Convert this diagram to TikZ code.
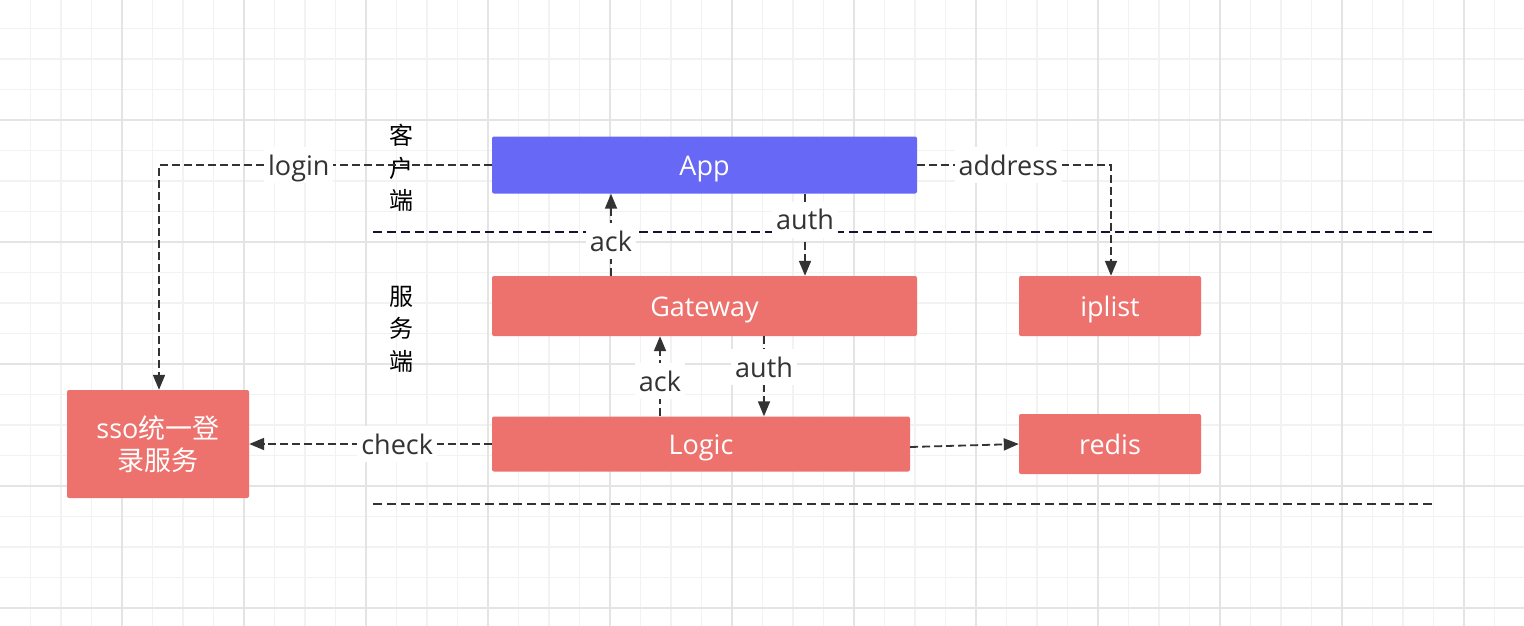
\documentclass[tikz,border=0pt]{standalone}
\usepackage{fontspec}
\setmainfont{Open Sans}
\newfontfamily\cjk{Noto Sans CJK SC}
\usetikzlibrary{arrows.meta}
\definecolor{boxred}{RGB}{237,113,108}
\definecolor{boxblue}{RGB}{103,104,245}
\definecolor{minorgrid}{RGB}{242,242,242}
\definecolor{majorgrid}{RGB}{228,228,228}
\definecolor{conn}{RGB}{51,51,51}
\definecolor{navy}{RGB}{20,20,50}
\tikzset{
  box/.style={rectangle, rounded corners=2pt, fill=boxred, text=white, inner sep=0pt,
    font=\fontsize{27}{32}\selectfont, text height=27pt, text depth=7pt},
  bluebox/.style={box, fill=boxblue},
  ssobox/.style={rectangle, rounded corners=2pt, fill=boxred, text=white, inner sep=0pt,
    font=\fontsize{27}{32}\selectfont, align=center},
  conline/.style={draw=conn, line width=1.8pt, dash pattern=on 8pt off 4pt},
  arr/.style={conline, -{Triangle[length=15pt,width=12pt]}},
  lbl/.style={fill=white, text=conn, inner xsep=4pt, inner ysep=1pt, font=\fontsize{27}{32}\selectfont,
    text height=27pt, text depth=7pt},
  sidetext/.style={text=black, align=center, font=\cjk\fontsize{24}{32.5}\selectfont},
  sep/.style={line width=1.8pt, dash pattern=on 9pt off 5pt}
}
\begin{document}
\begin{tikzpicture}[x=1pt,y=-1pt]
\useasboundingbox (0,0) rectangle (1524,626);
\fill[white] (0,0) rectangle (1524,626);
% grid
\foreach \i in {1,...,50} {
  \draw[minorgrid, line width=1.5pt] (30.5*\i,0) -- (30.5*\i,626);
}
\foreach \j in {1,...,21} {
  \draw[minorgrid, line width=1.5pt] (0,30.5*\j-2) -- (1524,30.5*\j-2);
}
\foreach \i in {1,...,12} {
  \draw[majorgrid, line width=2pt] (122*\i,0) -- (122*\i,626);
}
\foreach \j in {1,...,5} {
  \draw[majorgrid, line width=2pt] (0,122*\j-2) -- (1524,122*\j-2);
}
% separators
\draw[sep, draw=navy] (373,232) -- (1434,232);
\draw[sep, draw=conn] (373,504) -- (1434,504);
% side labels
\node[sidetext] (client) at (401,168) {客\\户\\端};
\node[sidetext] (server) at (401,329) {服\\务\\端};
% boxes
\node[bluebox, minimum width=425pt, minimum height=57pt] (app) at (704.5,165) {App};
\node[box, minimum width=425pt, minimum height=60pt] (gw) at (704.5,306) {Gateway};
\node[box, minimum width=182pt, minimum height=60pt] (iplist) at (1110,306) {iplist};
\node[box, minimum width=418pt, minimum height=55pt] (logic) at (701,444) {Logic};
\node[box, minimum width=182pt, minimum height=60pt] (redis) at (1110,444) {redis};
\node[ssobox, minimum width=182pt, minimum height=108pt] (sso) at (158,444) {sso{\cjk 统一登}\\{\cjk 录服务}};
% helper coordinates
\coordinate (xlogin) at (159,0);
\coordinate (xaddr) at (1111,0);
\coordinate (xack1) at (611,0);
\coordinate (xauth1) at (805,0);
\coordinate (xack2) at (660,0);
\coordinate (xauth2) at (764,0);
% connectors
\draw[arr] (app.west) -| node[lbl, pos=0.29] {login} (sso.north -| xlogin);
\draw[arr] (app.east) -| node[lbl, pos=0.235] {address} (iplist.north -| xaddr);
\draw[arr] (gw.north -| xack1) -- node[lbl, pos=0.42] {ack} (app.south -| xack1);
\draw[arr] (app.south -| xauth1) -- node[lbl, pos=0.32] {auth} (gw.north -| xauth1);
\draw[arr] (logic.north -| xack2) -- node[lbl, pos=0.44] {ack} (gw.south -| xack2);
\draw[arr] (gw.south -| xauth2) -- node[lbl, pos=0.385] {auth} (logic.north -| xauth2);
\draw[arr] (logic.west) -- node[lbl, pos=0.39] {check} (sso.east);
\draw[arr] ([yshift=-3pt]logic.east) -- (redis.west);
\end{tikzpicture}
\end{document}
